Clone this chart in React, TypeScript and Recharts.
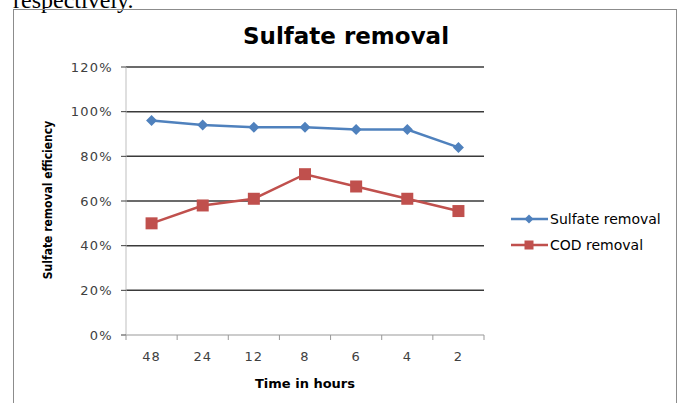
import React from 'react';
import { LineChart, Line, XAxis, YAxis, ReferenceLine } from 'recharts';

const categories = ['48', '24', '12', '8', '6', '4', '2'];
const sulfateRemoval = [96, 94, 93, 93, 92, 92, 84];
const codRemoval = [50, 58, 61, 72, 66.5, 61, 55.5];
const yTicks = [0, 20, 40, 60, 80, 100, 120];
const gridValues = [20, 40, 60, 80, 100, 120];
const seriesNames = ['Sulfate removal', 'COD removal'];
const titleText = 'Sulfate removal';
const xLabel = 'Time in hours';
const yLabel = 'Sulfate removal efficiency';

const data = categories.map((c, i) => ({ time: c, sulfate: sulfateRemoval[i], cod: codRemoval[i] }));

const W = 681;
const H = 403;
const M = { top: 67, right: 197, bottom: 0, left: 0 };
const Y_AXIS_W = 126;
const X_AXIS_H = 68;
const PLOT_W = W - M.left - M.right - Y_AXIS_W;
const AXIS_Y = H - M.bottom - X_AXIS_H;
const BLUE = '#4F81BD';
const RED = '#C0504D';
const FONT = '"DejaVu Sans", "Open Sans", sans-serif';

const Diamond = ({ cx, cy, fill, r = 5.5 }: any) => (
  <path d={`M${cx},${cy - r}L${cx + r},${cy}L${cx},${cy + r}L${cx - r},${cy}Z`} fill={fill} />
);
const Square = ({ cx, cy, fill, s = 12 }: any) => (
  <rect x={cx - s / 2} y={cy - s / 2} width={s} height={s} fill={fill} />
);

const XTick = (props: any) => {
  const { x, payload, index } = props;
  const bw = PLOT_W / categories.length;
  const left = x - bw / 2;
  return (
    <g>
      <line x1={left} y1={AXIS_Y} x2={left} y2={AXIS_Y + 5} stroke="#999" strokeWidth={1} />
      {index === categories.length - 1 && (
        <line x1={left + bw} y1={AXIS_Y} x2={left + bw} y2={AXIS_Y + 5} stroke="#999" strokeWidth={1} />
      )}
      <text x={x} y={AXIS_Y + 26} textAnchor="middle" fontSize={13} letterSpacing={1} fill="#404040" fontFamily={FONT}>
        {payload.value}
      </text>
    </g>
  );
};

export default function App() {
  return (
    <div style={{ position: 'absolute', left: 0, top: 0, width: W, height: H, overflow: 'hidden', background: '#fff' }}>
      <div
        style={{
          position: 'absolute', left: 13, top: -12, fontFamily: '"Liberation Serif", serif', fontSize: 24,
          lineHeight: '24px', color: '#000', whiteSpace: 'nowrap',
        }}
      >
        respectively.
      </div>
      <div
        style={{
          position: 'absolute', left: 13, top: 9, width: 664, height: 420,
          border: '1.5px solid #8c8c8c', boxSizing: 'border-box',
        }}
      />
      <div style={{ position: 'absolute', left: 0, top: 0 }}>
        <LineChart width={W} height={H} data={data} margin={M}>
          <XAxis
            dataKey="time"
            scale="band"
            height={X_AXIS_H}
            axisLine={{ stroke: '#999', strokeWidth: 1 }}
            tickLine={false}
            tick={<XTick />}
            interval={0}
          />
          <YAxis
            width={Y_AXIS_W}
            domain={[0, 120]}
            ticks={yTicks}
            interval={0}
            tickFormatter={(v: number) => `${v}%`}
            axisLine={{ stroke: '#bfbfbf', strokeWidth: 1 }}
            tickLine={{ stroke: '#404040' }}
            tickSize={5}
            tickMargin={8}
            tick={{ fontSize: 13, letterSpacing: 1.3, fill: '#404040', fontFamily: FONT }}
          />
          {gridValues.map((v) => (
            <ReferenceLine key={v} y={v} stroke="#3a3a3a" strokeWidth={1.5} />
          ))}
          <Line
            dataKey="sulfate"
            stroke={BLUE}
            strokeWidth={2.5}
            isAnimationActive={false}
            dot={(p: any) => <Diamond key={`d${p.index}`} cx={p.cx} cy={p.cy} fill={BLUE} />}
          />
          <Line
            dataKey="cod"
            stroke={RED}
            strokeWidth={2.5}
            isAnimationActive={false}
            dot={(p: any) => <Square key={`s${p.index}`} cx={p.cx} cy={p.cy} fill={RED} />}
          />
        </LineChart>
      </div>
      <div
        style={{
          position: 'absolute', left: 146, top: 23, width: 400, textAlign: 'center', fontFamily: FONT,
          fontWeight: 'bold', fontSize: 23, lineHeight: '26px', color: '#000',
        }}
      >
        {titleText}
      </div>
      <div
        style={{
          position: 'absolute', left: 205, top: 376, width: 200, textAlign: 'center', fontFamily: FONT,
          fontWeight: 'bold', fontSize: 13, lineHeight: '16px', color: '#000',
        }}
      >
        {xLabel}
      </div>
      <div
        style={{
          position: 'absolute', left: 48 - 100, top: 200 - 8, width: 200, height: 16, textAlign: 'center',
          fontFamily: '"DejaVu Sans Condensed", "DejaVu Sans", sans-serif', fontWeight: 'bold', fontSize: 12,
          lineHeight: '16px', color: '#000', transform: 'rotate(-90deg)', whiteSpace: 'nowrap',
        }}
      >
        {yLabel}
      </div>
      <div style={{ position: 'absolute', left: 510, top: 206, fontFamily: FONT, fontSize: 14, color: '#000' }}>
        {seriesNames.map((name, i) => (
          <div key={name} style={{ display: 'flex', alignItems: 'center', height: 26 }}>
            <svg width={40} height={14} style={{ marginRight: 0 }}>
              <line x1={1} y1={7} x2={38} y2={7} stroke={i === 0 ? BLUE : RED} strokeWidth={2.5} />
              {i === 0 ? <Diamond cx={19} cy={7} r={4.5} fill={BLUE} /> : <Square cx={19} cy={7} s={9} fill={RED} />}
            </svg>
            <span>{name}</span>
          </div>
        ))}
      </div>
    </div>
  );
}
